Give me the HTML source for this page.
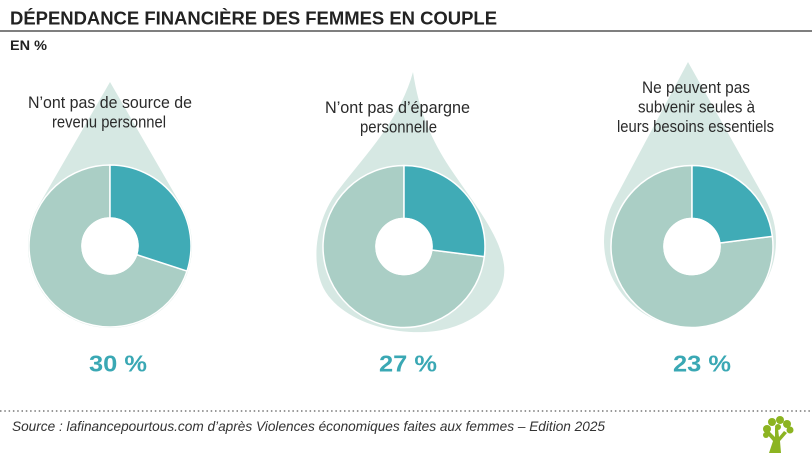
<!DOCTYPE html>
<html>
<head>
<meta charset="utf-8">
<style>
  html, body { margin: 0; padding: 0; background: #ffffff; }
  body { width: 812px; height: 453px; overflow: hidden; }
  svg { display: block; }
  .lab { font-family: "Liberation Sans", sans-serif; font-size: 16.5px; fill: #2a2a2a; }
  .pct { font-family: "Liberation Sans", sans-serif; font-size: 23px; font-weight: bold; fill: #3aa8b4; }
</style>
</head>
<body>
<svg width="812" height="453" viewBox="0 0 812 453" xmlns="http://www.w3.org/2000/svg">
  <!-- Title -->
  <text x="10" y="24.5" font-family="Liberation Sans, sans-serif" font-size="18.4" font-weight="bold" fill="#222" textLength="487" lengthAdjust="spacingAndGlyphs">DÉPENDANCE FINANCIÈRE DES FEMMES EN COUPLE</text>
  <line x1="0" y1="31" x2="812" y2="31" stroke="#555" stroke-width="1.5"/>
  <text x="10" y="50" font-family="Liberation Sans, sans-serif" font-size="14" font-weight="bold" fill="#222" textLength="37" lengthAdjust="spacingAndGlyphs">EN %</text>

  <!-- Drops -->
  <path d="M110,82 L181,205 A82,82 0 1 1 39,205 Z" fill="#d6e8e3"/>
  <path d="M413,72 C418,105 428,135 450,168 C475,205 500,235 504,265 C508,300 470,330 425,332 C380,334 335,315 322,285 C310,255 318,215 340,188 C365,155 400,120 413,72 Z" fill="#d6e8e3"/>
  <path d="M688,62 L765.4,199.7 A86,86 0 1 1 614.6,199.7 Z" fill="#d6e8e3"/>

  <!-- Donut 1 -->
  <g stroke="#ffffff" stroke-width="1.5" stroke-linejoin="round">
    <path d="M187.04,271.03 A81,81 0 1 1 110,165 L110,218 A28,28 0 1 0 136.63,254.65 Z" fill="#aacec5"/>
    <path d="M110,165 A81,81 0 0 1 187.04,271.03 L136.63,254.65 A28,28 0 0 0 110,218 Z" fill="#40abb6"/>
    <circle cx="110" cy="246" r="28" fill="#ffffff"/>
  </g>
  <!-- Donut 2 -->
  <g stroke="#ffffff" stroke-width="1.5" stroke-linejoin="round">
    <path d="M484.36,256.65 A81,81 0 1 1 404,165.5 L404,218.5 A28,28 0 1 0 431.78,250.01 Z" fill="#aacec5"/>
    <path d="M404,165.5 A81,81 0 0 1 484.36,256.65 L431.78,250.01 A28,28 0 0 0 404,218.5 Z" fill="#40abb6"/>
    <circle cx="404" cy="246.5" r="28" fill="#ffffff"/>
  </g>
  <!-- Donut 3 -->
  <g stroke="#ffffff" stroke-width="1.5" stroke-linejoin="round">
    <path d="M772.36,236.35 A81,81 0 1 1 692,165.5 L692,218.5 A28,28 0 1 0 719.78,242.99 Z" fill="#aacec5"/>
    <path d="M692,165.5 A81,81 0 0 1 772.36,236.35 L719.78,242.99 A28,28 0 0 0 692,218.5 Z" fill="#40abb6"/>
    <circle cx="692" cy="246.5" r="28" fill="#ffffff"/>
  </g>

  <!-- Labels -->
  <text class="lab" x="110" y="108" text-anchor="middle" textLength="164" lengthAdjust="spacingAndGlyphs">N’ont pas de source de</text>
  <text class="lab" x="109" y="127.5" text-anchor="middle" textLength="114" lengthAdjust="spacingAndGlyphs">revenu personnel</text>

  <text class="lab" x="397.5" y="113" text-anchor="middle" textLength="145" lengthAdjust="spacingAndGlyphs">N’ont pas d’épargne</text>
  <text class="lab" x="398.5" y="132.5" text-anchor="middle" textLength="77" lengthAdjust="spacingAndGlyphs">personnelle</text>

  <text class="lab" x="696" y="93" text-anchor="middle" textLength="108" lengthAdjust="spacingAndGlyphs">Ne peuvent pas</text>
  <text class="lab" x="696.5" y="112.5" text-anchor="middle" textLength="117" lengthAdjust="spacingAndGlyphs">subvenir seules à</text>
  <text class="lab" x="695.5" y="132" text-anchor="middle" textLength="157" lengthAdjust="spacingAndGlyphs">leurs besoins essentiels</text>

  <!-- Percentages -->
  <text class="pct" x="89" y="371.5" textLength="58" lengthAdjust="spacingAndGlyphs">30 %</text>
  <text class="pct" x="379" y="371.5" textLength="58" lengthAdjust="spacingAndGlyphs">27 %</text>
  <text class="pct" x="673" y="371.5" textLength="58" lengthAdjust="spacingAndGlyphs">23 %</text>

  <!-- Dotted separator -->
  <line x1="0" y1="411" x2="812" y2="411" stroke="#777" stroke-width="1.5" stroke-dasharray="1.5 2.8"/>

  <!-- Source -->
  <text x="12" y="431" font-family="Liberation Sans, sans-serif" font-size="14" font-style="italic" fill="#333" textLength="593" lengthAdjust="spacingAndGlyphs">Source : lafinancepourtous.com d’après Violences économiques faites aux femmes – Edition 2025</text>

  <!-- Logo tree -->
  <g fill="#8cb421">
    <path d="M769,453 L781,453 L780,441 L787,433 L784,431 L779,437 L778,428 L775,428 L775,437 L769,431 L766,433 L773,441 Z"/>
    <circle cx="767" cy="429" r="4"/>
    <circle cx="766" cy="435" r="3"/>
    <circle cx="772" cy="422" r="4"/>
    <circle cx="780" cy="420" r="4"/>
    <circle cx="787" cy="424" r="4"/>
    <circle cx="790" cy="430" r="3.5"/>
    <circle cx="778" cy="427" r="3"/>
  </g>
</svg>
</body>
</html>
